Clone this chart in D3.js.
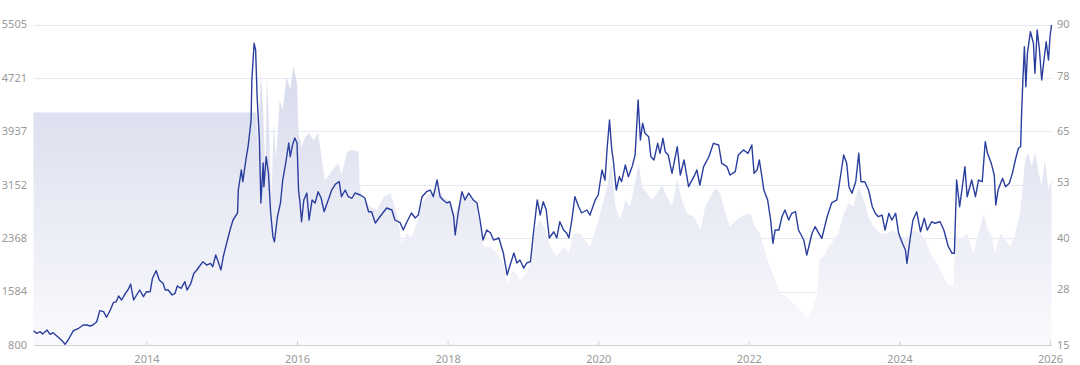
<!DOCTYPE html>
<html>
<head>
<meta charset="utf-8">
<script src="https://cdn.jsdelivr.net/npm/d3@7"></script>
<style>
  body { margin: 0; background: #fff; }
  svg text { font-family: "Noto Sans", "Liberation Sans", sans-serif; font-size: 11px; fill: #999; }
</style>
</head>
<body>
<svg id="chart" width="1080" height="365"></svg>
<script>
// DATA (x = decimal year):
var leftTicks  = [800, 1584, 2368, 3152, 3937, 4721, 5505];
var rightTicks = [15, 28, 40, 53, 65, 78, 90];
var yearTicks  = [2014, 2016, 2018, 2020, 2022, 2024, 2026];

// index level (left axis)
var priceSeries = [
  [2012.50, 1010], [2012.54, 972], [2012.59, 995], [2012.62, 961], [2012.68, 1020], [2012.72, 957], [2012.76, 981], [2012.81, 932],
  [2012.87, 873], [2012.92, 810], [2012.96, 873], [2013.03, 1010], [2013.10, 1045], [2013.16, 1094], [2013.21, 1094], [2013.25, 1079],
  [2013.29, 1094], [2013.34, 1142], [2013.38, 1304], [2013.43, 1289], [2013.47, 1207], [2013.52, 1314], [2013.56, 1421], [2013.60, 1436],
  [2013.63, 1519], [2013.67, 1461], [2013.72, 1559], [2013.76, 1618], [2013.79, 1695], [2013.83, 1461], [2013.87, 1534], [2013.91, 1607],
  [2013.96, 1509], [2014.00, 1582], [2014.05, 1582], [2014.08, 1779], [2014.13, 1891], [2014.17, 1754], [2014.22, 1706], [2014.25, 1607],
  [2014.29, 1607], [2014.34, 1534], [2014.38, 1559], [2014.41, 1666], [2014.46, 1632], [2014.51, 1729], [2014.54, 1607], [2014.59, 1706],
  [2014.63, 1853], [2014.67, 1901], [2014.70, 1949], [2014.75, 2023], [2014.80, 1974], [2014.85, 1999], [2014.88, 1949], [2014.92, 2121],
  [2014.96, 1999], [2014.99, 1901], [2015.02, 2096], [2015.07, 2316], [2015.11, 2488], [2015.15, 2635],
  [2015.21, 2738], [2015.22, 3075], [2015.26, 3369], [2015.28, 3197], [2015.32, 3516], [2015.35, 3711], [2015.39, 4103], [2015.40, 4690],
  [2015.43, 5229], [2015.45, 5131], [2015.47, 4445], [2015.50, 3810], [2015.52, 2885], [2015.55, 3472], [2015.56, 3124], [2015.59, 3564],
  [2015.62, 3325], [2015.65, 2738], [2015.68, 2390], [2015.70, 2316], [2015.74, 2683], [2015.78, 2885], [2015.81, 3222], [2015.85, 3472],
  [2015.89, 3765], [2015.91, 3564], [2015.94, 3736], [2015.97, 3839], [2016.00, 3765], [2016.02, 3075], [2016.04, 2885], [2016.06, 2610],
  [2016.09, 2929], [2016.13, 3031], [2016.16, 2635], [2016.20, 2929], [2016.24, 2885], [2016.28, 3050], [2016.32, 2958], [2016.36, 2757],
  [2016.40, 2885], [2016.43, 2977], [2016.46, 3075], [2016.51, 3163], [2016.56, 3197], [2016.59, 2977], [2016.64, 3075], [2016.68, 2977],
  [2016.73, 2954], [2016.77, 3031], [2016.84, 3002], [2016.90, 2958], [2016.95, 2757], [2016.99, 2757], [2017.04, 2591], [2017.10, 2683],
  [2017.19, 2811], [2017.26, 2782], [2017.30, 2635], [2017.37, 2595], [2017.41, 2488], [2017.46, 2610], [2017.52, 2738], [2017.57, 2664],
  [2017.61, 2708], [2017.66, 2977], [2017.72, 3050], [2017.77, 3075], [2017.81, 2977], [2017.86, 3222], [2017.90, 2977], [2017.94, 2929],
  [2017.99, 2885], [2018.03, 2904], [2018.08, 2683], [2018.10, 2415], [2018.14, 2738], [2018.19, 3050], [2018.23, 2929], [2018.28, 3031],
  [2018.34, 2929], [2018.39, 2885], [2018.43, 2635], [2018.47, 2341], [2018.52, 2488], [2018.57, 2444], [2018.61, 2341], [2018.68, 2371],
  [2018.74, 2151], [2018.79, 1828], [2018.83, 1974], [2018.88, 2151], [2018.92, 2004], [2018.96, 2048], [2019.01, 1930], [2019.05, 2004],
  [2019.10, 2023], [2019.14, 2444], [2019.19, 2929], [2019.23, 2708], [2019.27, 2904], [2019.31, 2782], [2019.35, 2371], [2019.41, 2463],
  [2019.45, 2371], [2019.49, 2610], [2019.54, 2488], [2019.58, 2444], [2019.61, 2371], [2019.65, 2635], [2019.69, 2977], [2019.74, 2830],
  [2019.78, 2738], [2019.85, 2782], [2019.89, 2708], [2019.96, 2929], [2020.00, 3002], [2020.05, 3369], [2020.09, 3222], [2020.12, 3711],
  [2020.15, 4103], [2020.18, 3663], [2020.20, 3516], [2020.24, 3075], [2020.28, 3271], [2020.31, 3197], [2020.36, 3442], [2020.40, 3271],
  [2020.45, 3418], [2020.49, 3589], [2020.53, 4397], [2020.56, 3810], [2020.59, 4055], [2020.62, 3912], [2020.67, 3858], [2020.70, 3564],
  [2020.74, 3516], [2020.79, 3761], [2020.82, 3614], [2020.86, 3834], [2020.89, 3638], [2020.93, 3589], [2020.98, 3320], [2021.05, 3711],
  [2021.09, 3296], [2021.14, 3516], [2021.20, 3124], [2021.27, 3271], [2021.31, 3369], [2021.35, 3149], [2021.40, 3418], [2021.47, 3564],
  [2021.53, 3761], [2021.60, 3736], [2021.64, 3467], [2021.71, 3418], [2021.75, 3296], [2021.82, 3344], [2021.86, 3589], [2021.93, 3663],
  [2021.99, 3614], [2022.04, 3736], [2022.07, 3320], [2022.11, 3369], [2022.14, 3516], [2022.17, 3296], [2022.20, 3075], [2022.25, 2929],
  [2022.29, 2635], [2022.32, 2293], [2022.35, 2488], [2022.40, 2488], [2022.44, 2683], [2022.48, 2782], [2022.53, 2635], [2022.57, 2733],
  [2022.62, 2757], [2022.66, 2488], [2022.73, 2341], [2022.77, 2121], [2022.84, 2440], [2022.88, 2537], [2022.93, 2440], [2022.97, 2366],
  [2023.04, 2683], [2023.10, 2885], [2023.17, 2929], [2023.21, 3222], [2023.26, 3589], [2023.30, 3467], [2023.33, 3124], [2023.37, 3027],
  [2023.42, 3197], [2023.46, 3614], [2023.49, 3197], [2023.54, 3197], [2023.59, 3075], [2023.64, 2830], [2023.68, 2733], [2023.72, 2683],
  [2023.77, 2708], [2023.81, 2488], [2023.86, 2733], [2023.90, 2635], [2023.95, 2733], [2023.99, 2440], [2024.04, 2293], [2024.08, 2195],
  [2024.10, 1999], [2024.14, 2341], [2024.18, 2635], [2024.23, 2757], [2024.28, 2463], [2024.33, 2660], [2024.37, 2488], [2024.43, 2610],
  [2024.47, 2587], [2024.54, 2610], [2024.59, 2488], [2024.65, 2243], [2024.70, 2146], [2024.73, 2146], [2024.76, 3222], [2024.80, 2830],
  [2024.83, 3075], [2024.87, 3418], [2024.90, 2977], [2024.96, 3222], [2025.01, 2977], [2025.05, 3222], [2025.10, 3197], [2025.14, 3784],
  [2025.17, 3614], [2025.22, 3467], [2025.26, 3296], [2025.28, 2854], [2025.31, 3075], [2025.37, 3247], [2025.41, 3124], [2025.46, 3174],
  [2025.50, 3320], [2025.54, 3516], [2025.58, 3688], [2025.61, 3711], [2025.62, 4103], [2025.64, 4690], [2025.66, 5179], [2025.68, 4592],
  [2025.70, 5082], [2025.74, 5399], [2025.78, 5229], [2025.80, 4789], [2025.83, 5424], [2025.86, 5131], [2025.89, 4690], [2025.92, 4984],
  [2025.95, 5252], [2025.98, 4984], [2026.00, 5325], [2026.02, 5498]
];

// valuation (right axis), shaded area
var peSeries = [
  [2012.50, 69.4], [2015.46, 69.4], [2015.48, 60.6], [2015.52, 78.2], [2015.55, 70.0], [2015.58, 54.8], [2015.60, 77.5], [2015.63, 65.3],
  [2015.66, 48.9], [2015.69, 67.0], [2015.72, 58.3], [2015.77, 72.3], [2015.81, 70.0], [2015.86, 77.8], [2015.91, 74.7], [2015.95, 80.1],
  [2016.00, 76.3], [2016.02, 64.6], [2016.06, 61.4], [2016.11, 63.7], [2016.16, 64.6], [2016.22, 63.0], [2016.28, 64.6], [2016.33, 58.3],
  [2016.37, 53.6], [2016.44, 55.2], [2016.51, 56.7], [2016.55, 57.6], [2016.59, 54.8], [2016.66, 59.9], [2016.70, 60.6], [2016.75, 60.6],
  [2016.82, 60.2], [2016.83, 52.0], [2016.88, 48.9], [2016.97, 47.4], [2017.06, 46.6], [2017.15, 49.7], [2017.24, 50.5], [2017.33, 45.8],
  [2017.39, 38.8], [2017.46, 41.1], [2017.52, 40.3], [2017.59, 43.5], [2017.66, 48.2], [2017.72, 49.7], [2017.81, 50.9], [2017.88, 52.0],
  [2017.94, 49.7], [2018.03, 48.5], [2018.10, 45.8], [2018.17, 48.9], [2018.26, 50.5], [2018.37, 48.9], [2018.43, 42.7], [2018.48, 38.0],
  [2018.57, 38.0], [2018.65, 36.5], [2018.74, 34.1], [2018.79, 29.0], [2018.87, 32.6], [2018.96, 30.2], [2019.05, 31.8], [2019.12, 34.9],
  [2019.16, 41.9], [2019.23, 44.3], [2019.30, 41.9], [2019.36, 38.0], [2019.45, 35.7], [2019.54, 38.0], [2019.61, 36.5], [2019.67, 41.1],
  [2019.76, 41.1], [2019.89, 38.0], [2019.98, 42.7], [2020.05, 47.4], [2020.12, 52.0], [2020.17, 57.5], [2020.23, 47.4], [2020.29, 44.3],
  [2020.36, 48.9], [2020.42, 47.4], [2020.48, 52.0], [2020.54, 57.5], [2020.58, 52.0], [2020.65, 50.5], [2020.71, 48.9], [2020.78, 50.5],
  [2020.85, 52.4], [2020.91, 49.7], [2020.98, 47.4], [2021.05, 53.6], [2021.11, 48.9], [2021.18, 45.8], [2021.27, 45.0], [2021.36, 41.9],
  [2021.42, 47.4], [2021.49, 49.7], [2021.56, 51.7], [2021.62, 50.5], [2021.69, 45.8], [2021.75, 42.7], [2021.84, 44.3], [2021.93, 45.4],
  [2022.02, 45.8], [2022.08, 42.7], [2022.15, 41.1], [2022.22, 36.5], [2022.28, 33.3], [2022.35, 30.2], [2022.41, 27.1], [2022.50, 26.3],
  [2022.59, 24.8], [2022.68, 23.2], [2022.77, 21.2], [2022.84, 23.2], [2022.91, 27.1], [2022.94, 34.9], [2022.99, 35.7], [2023.06, 38.0],
  [2023.13, 39.6], [2023.19, 41.1], [2023.26, 45.8], [2023.33, 48.2], [2023.39, 47.4], [2023.46, 52.0], [2023.53, 48.9], [2023.59, 45.0],
  [2023.66, 42.7], [2023.75, 41.1], [2023.84, 41.1], [2023.92, 41.9], [2024.01, 40.3], [2024.10, 40.3], [2024.19, 41.9], [2024.28, 41.1],
  [2024.34, 39.6], [2024.41, 36.5], [2024.50, 34.1], [2024.59, 31.0], [2024.65, 29.0], [2024.72, 29.0], [2024.74, 41.1], [2024.81, 39.6],
  [2024.90, 41.1], [2024.98, 36.5], [2025.05, 41.1], [2025.12, 45.8], [2025.16, 42.7], [2025.23, 40.3], [2025.27, 36.5], [2025.34, 41.1],
  [2025.41, 39.6], [2025.47, 38.0], [2025.54, 41.1], [2025.60, 45.8], [2025.63, 50.5], [2025.67, 58.3], [2025.71, 59.9], [2025.76, 56.7],
  [2025.80, 60.2], [2025.85, 55.2], [2025.89, 52.0], [2025.93, 58.3], [2025.98, 51.3], [2026.02, 53.6]
];

// Select area and define layout:
var svg = d3.select("#chart");
var padLeft = 33.5, padRight = 1051.5, padTop = 24.5, padBottom = 345;

// Scaling:
var xScale = d3.scaleLinear()
    .domain([2012.5, 2026.02])
    .range([padLeft, padRight]);

var yLeft = d3.scaleLinear()
    .domain([800, 5505])
    .range([padBottom, padTop]);

var yRight = d3.scaleLinear()
    .domain([15, 90])
    .range([padBottom, padTop]);

// Gradient for the area:
var grad = svg.append("defs").append("linearGradient")
    .attr("id", "areaFill")
    .attr("gradientUnits", "userSpaceOnUse")
    .attr("x1", 0).attr("y1", padTop)
    .attr("x2", 0).attr("y2", padBottom);
grad.append("stop").attr("offset", "0%").attr("stop-color", "#d2d6e9");
grad.append("stop").attr("offset", "100%").attr("stop-color", "#fafafd");

// Grid lines:
svg.append("g")
    .selectAll("line")
    .data(leftTicks.slice(1))
    .enter()
    .append("line")
    .attr("x1", padLeft)
    .attr("x2", padRight)
    .attr("y1", function (d) { return Math.round(yLeft(d)) + 0.5; })
    .attr("y2", function (d) { return Math.round(yLeft(d)) + 0.5; })
    .attr("stroke", "#e3e8f3");

// Shaded area (right axis):
var area = d3.area()
    .x(function (d) { return xScale(d[0]); })
    .y0(padBottom)
    .y1(function (d) { return yRight(d[1]); });

svg.append("path")
    .datum(peSeries)
    .attr("fill", "url(#areaFill)")
    .attr("d", area);

// Index line (left axis):
var line = d3.line()
    .x(function (d) { return xScale(d[0]); })
    .y(function (d) { return yLeft(d[1]); });

svg.append("path")
    .datum(priceSeries)
    .attr("fill", "none")
    .attr("stroke", "#2a3e9e")
    .attr("stroke-width", 1.4)
    .attr("stroke-linejoin", "round")
    .attr("d", line);

// x axis (ticks point inward):
var xAxis = svg.append("g")
    .attr("transform", "translate(0," + padBottom + ")")
    .call(d3.axisBottom(xScale)
        .tickValues(yearTicks)
        .tickFormat(d3.format("d"))
        .tickSizeInner(-4)
        .tickSizeOuter(0)
        .tickPadding(10));
xAxis.select(".domain").attr("stroke", "#d0d0d0");
xAxis.selectAll(".tick line").attr("stroke", "#d0d0d0");
xAxis.selectAll("text")
    .attr("fill", "#999")
    .style("font-size", "11px");

// Left axis labels:
svg.append("g")
    .selectAll("text")
    .data(leftTicks)
    .enter()
    .append("text")
    .attr("x", 27)
    .attr("y", function (d) { return yLeft(d); })
    .attr("dy", "0.35em")
    .attr("text-anchor", "end")
    .text(function (d) { return d; });

// Right axis labels:
svg.append("g")
    .selectAll("text")
    .data(rightTicks)
    .enter()
    .append("text")
    .attr("x", 1057)
    .attr("y", function (d) { return yRight(d); })
    .attr("dy", "0.35em")
    .text(function (d) { return d; });
</script>
</body>
</html>
